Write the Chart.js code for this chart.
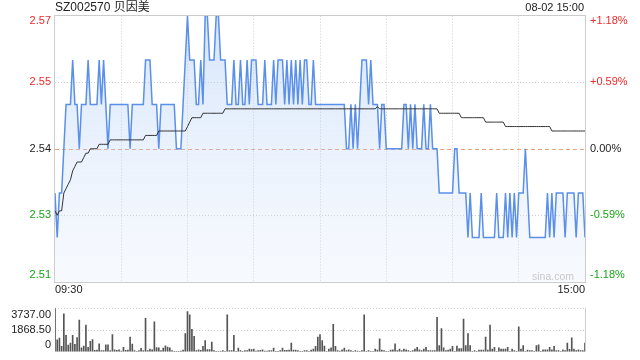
<!DOCTYPE html>
<html>
<head>
<meta charset="utf-8">
<script src="https://cdn.jsdelivr.net/npm/chart.js@4.4.0/dist/chart.umd.min.js"></script>
<style>
  html, body { margin: 0; padding: 0; background: #fff; }
  #wrap { position: relative; width: 640px; height: 360px; overflow: hidden;
          font-family: "Liberation Sans", Arial, "Noto Sans CJK SC", sans-serif; }
  #priceChart { position: absolute; left: 0; top: 0; }
  #volChart { position: absolute; left: 0; top: 291px; }
  .lbl { position: absolute; color: #222; white-space: nowrap; line-height: 14px; }
</style>
</head>
<body>
<div id="wrap">
  <canvas id="priceChart" width="640" height="300"></canvas>
  <canvas id="volChart" width="640" height="78"></canvas>
  <div class="lbl" style="left:55px; top:0px; font-size:12px;">SZ002570 贝因美</div>
  <div class="lbl" style="right:56px; top:0px; font-size:11px;">08-02 15:00</div>
</div>
<script>
// minute labels, 09:30-11:30 and 13:01-15:00
const fmt = m => String(Math.floor(m / 60)).padStart(2, "0") + ":" + String(m % 60).padStart(2, "0");
const times = [];
for (let m = 570; m <= 690; m++) times.push(fmt(m));
for (let m = 781; m <= 900; m++) times.push(fmt(m));

const prevClose = 2.54;
const priceTicks = [2.51, 2.525, 2.54, 2.555, 2.57];
const priceTickLabels = ["2.51", "2.53", "2.54", "2.55", "2.57"];
const pctTickLabels = ["-1.18%", "-0.59%", "0.00%", "+0.59%", "+1.18%"];
const volTicks = [0, 1868.5, 3737];
const volTickLabels = ["0", "1868.50", "3737.00"];

const price = [
  2.53,2.52,2.53,2.53,2.54,2.55,2.55,2.55,2.56,2.55,
  2.55,2.54,2.55,2.55,2.55,2.56,2.55,2.55,2.55,2.55,
  2.56,2.55,2.56,2.55,2.54,2.55,2.55,2.55,2.55,2.55,
  2.55,2.55,2.55,2.55,2.54,2.55,2.55,2.55,2.55,2.55,
  2.55,2.56,2.56,2.56,2.55,2.55,2.55,2.54,2.55,2.55,
  2.55,2.55,2.55,2.55,2.55,2.54,2.54,2.54,2.55,2.56,
  2.57,2.56,2.56,2.56,2.55,2.55,2.56,2.55,2.57,2.57,
  2.56,2.56,2.56,2.57,2.57,2.56,2.56,2.56,2.55,2.55,
  2.55,2.56,2.55,2.55,2.56,2.55,2.55,2.56,2.55,2.56,
  2.56,2.56,2.55,2.55,2.55,2.56,2.55,2.55,2.55,2.56,
  2.55,2.56,2.56,2.56,2.55,2.56,2.55,2.56,2.55,2.56,
  2.55,2.56,2.55,2.56,2.56,2.55,2.55,2.56,2.55,2.55,
  2.55,2.55,2.55,2.55,2.55,2.55,2.55,2.55,2.55,2.55,
  2.55,2.55,2.54,2.54,2.55,2.54,2.55,2.54,2.55,2.56,
  2.56,2.56,2.55,2.56,2.55,2.55,2.55,2.54,2.55,2.55,
  2.54,2.54,2.54,2.54,2.54,2.54,2.54,2.54,2.55,2.55,
  2.54,2.55,2.54,2.55,2.54,2.54,2.54,2.55,2.54,2.54,
  2.55,2.54,2.54,2.54,2.53,2.53,2.53,2.53,2.53,2.53,
  2.53,2.54,2.54,2.53,2.53,2.53,2.53,2.52,2.53,2.52,
  2.52,2.52,2.52,2.53,2.52,2.52,2.52,2.52,2.52,2.52,
  2.53,2.52,2.52,2.52,2.53,2.52,2.53,2.52,2.53,2.52,
  2.53,2.53,2.53,2.54,2.53,2.52,2.52,2.52,2.52,2.52,
  2.52,2.52,2.52,2.53,2.52,2.53,2.52,2.53,2.53,2.53,
  2.53,2.52,2.53,2.53,2.53,2.53,2.52,2.53,2.53,2.53,
  2.52
];

const avgPrice = [
  2.526,2.525,2.526,2.526,2.530,2.531,2.532,2.533,2.535,2.536,
  2.537,2.537,2.537,2.538,2.539,2.539,2.540,2.540,2.540,2.540,
  2.541,2.541,2.541,2.541,2.541,2.542,2.542,2.542,2.542,2.542,
  2.542,2.542,2.542,2.542,2.542,2.542,2.542,2.542,2.542,2.542,
  2.542,2.543,2.543,2.543,2.543,2.543,2.543,2.544,2.544,2.544,
  2.544,2.544,2.544,2.544,2.544,2.544,2.544,2.544,2.544,2.544,
  2.545,2.546,2.547,2.547,2.547,2.547,2.547,2.548,2.548,2.548,
  2.548,2.548,2.548,2.548,2.548,2.548,2.548,2.549,2.549,2.549,
  2.549,2.549,2.549,2.549,2.549,2.549,2.549,2.549,2.549,2.549,
  2.549,2.549,2.549,2.549,2.549,2.549,2.549,2.549,2.549,2.549,
  2.549,2.549,2.549,2.549,2.549,2.549,2.549,2.549,2.549,2.549,
  2.549,2.549,2.549,2.549,2.549,2.549,2.549,2.549,2.549,2.549,
  2.549,2.549,2.549,2.549,2.549,2.549,2.549,2.549,2.549,2.549,
  2.549,2.549,2.549,2.549,2.549,2.549,2.549,2.549,2.549,2.549,
  2.549,2.549,2.549,2.549,2.549,2.549,2.5495,2.549,2.549,2.549,
  2.549,2.549,2.549,2.549,2.549,2.549,2.549,2.549,2.549,2.549,
  2.549,2.549,2.549,2.549,2.549,2.549,2.549,2.549,2.549,2.549,
  2.549,2.549,2.549,2.549,2.548,2.548,2.548,2.548,2.548,2.548,
  2.548,2.548,2.548,2.548,2.547,2.547,2.547,2.547,2.547,2.547,
  2.547,2.547,2.547,2.547,2.547,2.546,2.546,2.546,2.546,2.546,
  2.546,2.546,2.546,2.546,2.545,2.545,2.545,2.545,2.545,2.545,
  2.545,2.545,2.545,2.545,2.545,2.545,2.545,2.545,2.545,2.545,
  2.545,2.545,2.545,2.545,2.545,2.544,2.544,2.544,2.544,2.544,
  2.544,2.544,2.544,2.544,2.544,2.544,2.544,2.544,2.544,2.544,
  2.544
];

const volume = [
  3737,1020,1166,460,3256,1410,583,753,1410,632,
  1215,2722,340,486,2284,389,900,1045,120,150,
  680,100,100,608,608,100,1480,170,120,170,
  70,390,120,150,1260,655,100,50,100,290,
  100,2870,100,240,170,2576,365,340,100,315,
  510,413,340,100,50,50,50,70,150,1555,
  3450,3160,1920,1336,100,170,120,460,970,195,
  195,826,100,50,50,50,100,50,3160,100,
  100,1410,50,315,100,50,100,100,240,195,
  240,70,100,120,170,70,70,100,100,315,
  50,50,100,315,120,120,150,753,150,150,
  100,50,50,100,100,50,150,240,460,1260,
  1480,970,486,50,240,340,2357,460,100,70,
  170,315,100,170,100,50,100,70,50,100,
  3160,50,100,50,50,240,150,1118,150,100,
  50,50,150,170,680,100,240,100,240,170,
  100,50,100,240,390,170,100,240,390,100,
  100,100,100,2965,535,1993,340,100,150,240,
  460,50,486,267,267,2795,535,1555,535,50,
  100,50,150,150,150,1260,150,2284,240,390,
  50,340,240,240,240,390,50,240,100,50,
  2140,240,535,50,150,100,100,50,535,608,
  50,170,170,170,390,170,460,100,100,50,
  170,100,753,219,1190,240,100,170,100,100,
  753
];

Chart.defaults.font.family = '"Liberation Sans", Arial, sans-serif';
Chart.defaults.font.size = 11;
Chart.defaults.animation = false;

const UP = "#ee2a2a", DOWN = "#19a319", FLAT = "#222";
const GRID = "#cfcfcf";
const NONE = "rgba(0,0,0,0)";

// first/last labels pulled inside the plot box
const edgeLabel = (text, i, n) => i === 0 ? [text, ""] : (i === n - 1 ? ["", text] : text);
const colorFor = i => i > 2 ? UP : (i < 2 ? DOWN : FLAT);
const priceFont = c => ({ size: 11, lineHeight: c.index === priceTicks.length - 1 ? 0.97 : 1.2 });

const pricePlugin = {
  id: "priceDecor",
  beforeDatasetsDraw(chart) {
    const { ctx, chartArea: a, scales } = chart;
    const y = Math.round(scales.y.getPixelForValue(prevClose)) + 0.5;
    ctx.save();
    ctx.strokeStyle = "#e9a07c";
    ctx.lineWidth = 1;
    ctx.setLineDash([4, 3]);
    ctx.beginPath();
    ctx.moveTo(a.left, y);
    ctx.lineTo(a.right, y);
    ctx.stroke();
    ctx.restore();
  },
  afterDraw(chart) {
    const { ctx, chartArea: a } = chart;
    ctx.save();
    ctx.strokeStyle = "#cccccc";
    ctx.lineWidth = 1;
    ctx.strokeRect(Math.round(a.left) - 0.5, Math.round(a.top) - 0.5,
                   Math.round(a.right - a.left) + 1, Math.round(a.bottom - a.top) + 1);
    ctx.fillStyle = "#c8c8c8";
    ctx.font = '10.5px "Liberation Sans", Arial, sans-serif';
    ctx.textAlign = "right";
    ctx.textBaseline = "alphabetic";
    ctx.fillText("sina.com", a.right - 11, a.bottom - 2);
    ctx.restore();
  }
};

new Chart(document.getElementById("priceChart"), {
  type: "line",
  data: {
    labels: times,
    datasets: [
      {
        label: "均价",
        data: avgPrice,
        borderColor: "#333",
        borderWidth: 1,
        pointRadius: 0,
        fill: false
      },
      {
        label: "价格",
        data: price,
        borderColor: "#5a8fea",
        borderWidth: 1.5,
        pointRadius: 0,
        tension: 0,
        fill: "start",
        backgroundColor: (c) => {
          const a = c.chart.chartArea;
          if (!a) return NONE;
          const g = c.chart.ctx.createLinearGradient(0, a.top, 0, a.bottom);
          g.addColorStop(0, "rgba(160,195,245,0.42)");
          g.addColorStop(1, "rgba(215,228,250,0.2)");
          return g;
        }
      }
    ]
  },
  options: {
    responsive: false,
    layout: { padding: { top: 15, left: 0, right: 0, bottom: 0 } },
    plugins: { legend: { display: false }, tooltip: { enabled: false } },
    scales: {
      x: {
        type: "category",
        offset: false,
        afterFit: s => { s.height = 15.5; },
        border: { display: false, dash: [1, 2] },
        grid: {
          drawTicks: false,
          color: c => (c.index % 30 === 0 && c.index > 0 && c.index < times.length - 1) ? GRID : NONE
        },
        ticks: {
          autoSkip: false,
          maxRotation: 0,
          align: "inner",
          padding: 2,
          color: "#222",
          callback: (v, i) => (i === 0 || i === times.length - 1) ? times[i] : ""
        }
      },
      y: {
        position: "left",
        min: priceTicks[0],
        max: priceTicks[priceTicks.length - 1],
        afterBuildTicks: s => { s.ticks = priceTicks.map(v => ({ value: v })); },
        afterFit: s => { s.width = 55; },
        border: { display: false, dash: [1, 2] },
        grid: { drawTicks: false, color: c => (c.index === 1 || c.index === 3) ? GRID : NONE },
        ticks: {
          autoSkip: false,
          padding: 4,
          font: priceFont,
          color: c => colorFor(c.index),
          callback: (v, i) => edgeLabel(priceTickLabels[i], i, priceTicks.length)
        }
      },
      y2: {
        position: "right",
        min: priceTicks[0],
        max: priceTicks[priceTicks.length - 1],
        afterBuildTicks: s => { s.ticks = priceTicks.map(v => ({ value: v })); },
        afterFit: s => { s.width = 55; },
        border: { display: false },
        grid: { display: false, drawTicks: false },
        ticks: {
          autoSkip: false,
          padding: 5,
          font: priceFont,
          color: c => colorFor(c.index),
          callback: (v, i) => edgeLabel(pctTickLabels[i], i, priceTicks.length)
        }
      }
    }
  },
  plugins: [pricePlugin]
});

const volPlugin = {
  id: "volDecor",
  afterDraw(chart) {
    const { ctx, chartArea: a } = chart;
    const x = Math.round(a.right) + 0.5;
    ctx.save();
    ctx.strokeStyle = "#cccccc";
    ctx.lineWidth = 1;
    ctx.beginPath();
    ctx.moveTo(x, a.top);
    ctx.lineTo(x, a.bottom);
    ctx.stroke();
    ctx.restore();
  }
};

new Chart(document.getElementById("volChart"), {
  type: "bar",
  data: {
    labels: times,
    datasets: [{
      label: "成交量",
      data: volume,
      backgroundColor: "#555",
      barThickness: 1
    }]
  },
  options: {
    responsive: false,
    layout: { padding: { top: 13, left: 0, right: 55, bottom: 13 } },
    plugins: { legend: { display: false }, tooltip: { enabled: false } },
    scales: {
      x: { type: "category", offset: false, display: false },
      y: {
        min: volTicks[0],
        max: volTicks[volTicks.length - 1],
        afterBuildTicks: s => { s.ticks = volTicks.map(v => ({ value: v })); },
        afterFit: s => { s.width = 55; },
        border: { display: false, dash: [1, 2] },
        grid: { drawTicks: false, color: c => c.index > 0 ? GRID : NONE },
        ticks: {
          autoSkip: false,
          padding: 4,
          color: "#222",
          callback: (v, i) => edgeLabel(volTickLabels[i], i, volTicks.length)
        }
      }
    }
  },
  plugins: [volPlugin]
});
</script>
</body>
</html>
